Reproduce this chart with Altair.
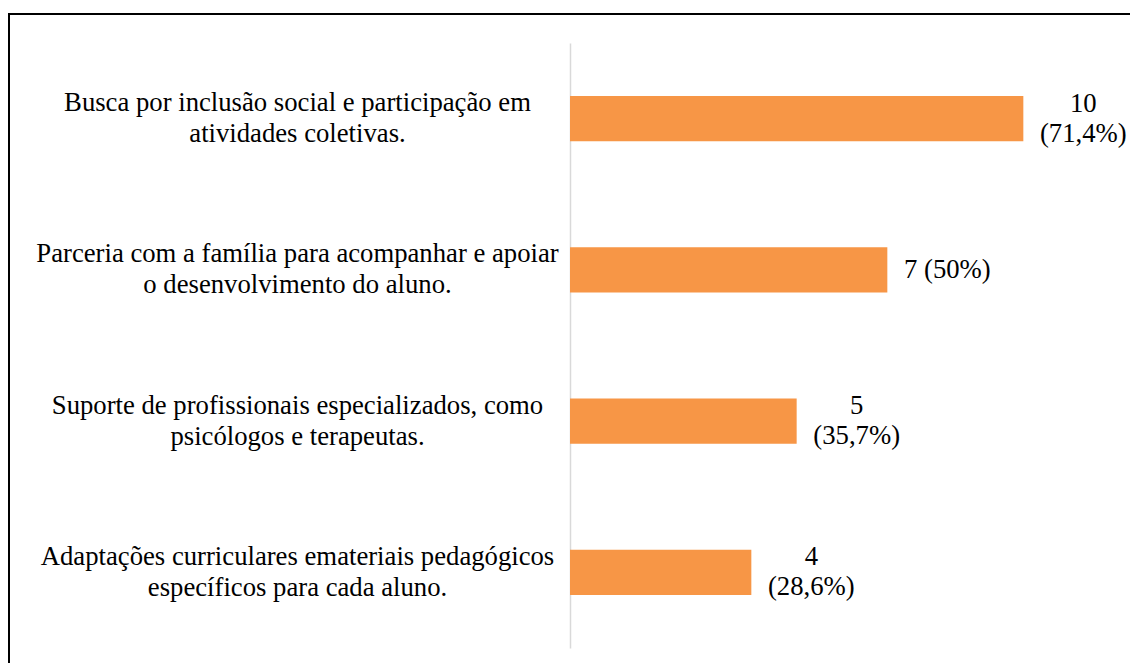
import altair as alt
import pandas as pd

categories = [
    "Busca por inclusão social e participação em\natividades coletivas.",
    "Parceria com a família para acompanhar e apoiar\no desenvolvimento do aluno.",
    "Suporte de profissionais especializados, como\npsicólogos e terapeutas.",
    "Adaptações curriculares emateriais pedagógicos\nespecíficos para cada aluno.",
]
counts = [10, 7, 5, 4]
value_labels = ["10\n(71,4%)", "7 (50%)", "5\n(35,7%)", "4\n(28,6%)"]

df = pd.DataFrame({"cat": categories, "n": counts, "lab": value_labels})

FONT = "Times New Roman"
FS = 26.7

y_enc = alt.Y(
    "cat:N",
    sort=categories,
    title=None,
    scale=alt.Scale(paddingInner=0.7, paddingOuter=0.35),
    axis=alt.Axis(
        labelExpr="split(datum.label, '\\n')",
        labelFont=FONT,
        labelFontSize=FS,
        labelColor="black",
        labelAlign="center",
        labelBaseline="middle",
        labelPadding=273,
        labelOffset=-15.5,
        labelLineHeight=31,
        labelLimit=0,
        ticks=False,
        tickSize=0,
        domainColor="#D9D9D9",
        domainWidth=1.5,
        grid=False,
    ),
)
x_enc = alt.X("n:Q", title=None, axis=None, scale=alt.Scale(domain=[0, 12], nice=False))

bars = alt.Chart(df).mark_bar(color="#F79646").encode(x=x_enc, y=y_enc)
texts = alt.Chart(df).mark_text(
    align="center", baseline="middle", dx=60,
    dy=alt.ExprRef("length(split(datum.lab, '\\n')) > 1 ? -15 : 0"),
    font=FONT, fontSize=FS,
    lineBreak="\n", lineHeight=30, color="black",
).encode(x=x_enc, y=alt.Y("cat:N", sort=categories), text="lab:N")

frame_data = alt.Data(values=[{"k": 1}])
top_line = alt.Chart(frame_data).mark_rule(color="black", strokeWidth=2, clip=False).encode(
    x=alt.value(-562), x2=alt.value(560), y=alt.value(-29)
)
left_line = alt.Chart(frame_data).mark_rule(color="black", strokeWidth=2, clip=False).encode(
    x=alt.value(-561), y=alt.value(-30), y2=alt.value(620)
)

chart = (
    alt.layer(bars, texts, top_line, left_line)
    .properties(
        width=544,
        height=605,
        padding={"left": 562, "top": 35, "right": 16, "bottom": 15},
        autosize=alt.AutoSizeParams(type="none"),
        background="white",
    )
    .configure(font=FONT)
    .configure_view(stroke=None)
)

chart.save("out.html", embed_options={"renderer": "svg", "actions": False})
